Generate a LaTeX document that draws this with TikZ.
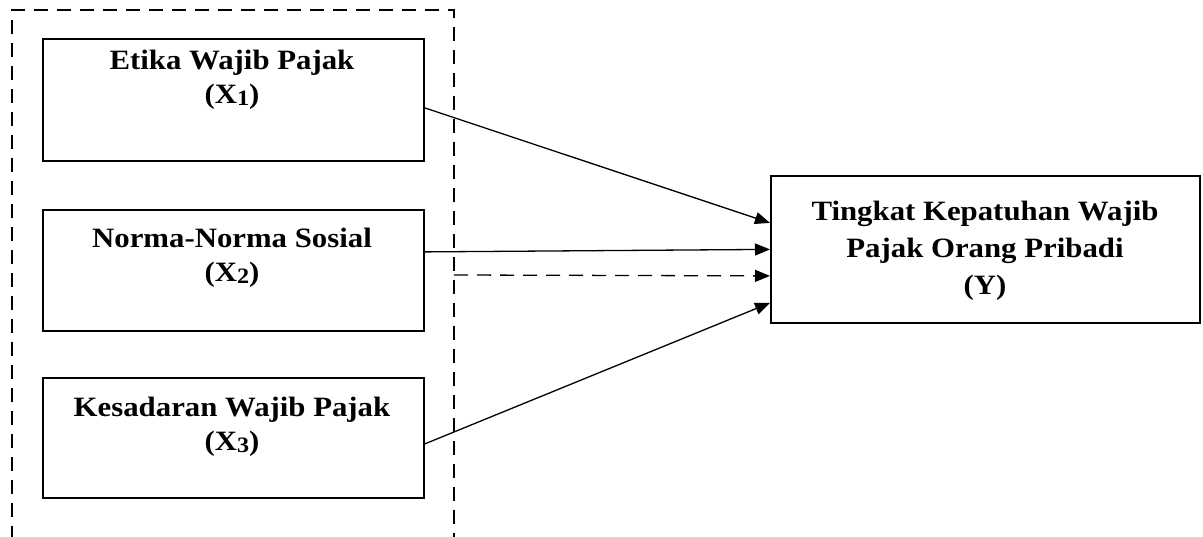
\documentclass[tikz,border=0pt]{standalone}
\usepackage{fontspec}
\setmainfont{Liberation Serif}[FakeStretch=1.1]
\usetikzlibrary{arrows.meta}
\newcommand{\subdig}[1]{\raisebox{-2pt}{\fontsize{22}{22}\selectfont #1}}
\begin{document}
\begin{tikzpicture}[x=1pt,y=-1pt,
  box/.style={draw, line width=1.8pt, inner sep=0pt, anchor=north west},
  lbl/.style={font=\fontsize{28}{34}\selectfont\bfseries, align=center, inner sep=0pt},
  link/.style={line width=1.3pt, -{Triangle[length=15pt,width=12pt]}},
  frame/.style={line width=1.5pt, dash pattern=on 14pt off 9pt}]
\useasboundingbox (0,0) rectangle (1203,537);
% dashed frame
\coordinate (fbl) at (12,540);
\coordinate (ftl) at (12,10);
\coordinate (ftr) at (454,10);
\coordinate (fbr) at (454,540);
\coordinate (fmid) at (454,275);
\draw[frame] (fbl) -- (ftl) -- (ftr) -- (fbr);
% boxes
\node[box, minimum width=381pt, minimum height=122pt] (x1) at (42,38) {};
\node[box, minimum width=381pt, minimum height=121pt] (x2) at (42,209) {};
\node[box, minimum width=381pt, minimum height=120pt] (x3) at (42,377) {};
\node[box, minimum width=429pt, minimum height=147pt] (y) at (770,175) {};
% labels
\node[lbl] (t1) at (232,80) {Etika Wajib Pajak\\(X\subdig{1})};
\node[lbl] (t2) at (232,258) {Norma-Norma Sosial\\(X\subdig{2})};
\node[lbl] (t3) at (232,427) {Kesadaran Wajib Pajak\\(X\subdig{3})};
\node[lbl, font=\fontsize{28}{37}\selectfont\bfseries] (ty) at (985,251) {Tingkat Kepatuhan Wajib\\Pajak Orang Pribadi\\(Y)};
% connectors
\draw[link] ([yshift=-8pt]x1.east) -- ([yshift=26.5pt]y.west);
\draw[link] ([yshift=18.5pt]x2.east) -- ([yshift=0pt]y.west);
\draw[link, dash pattern=on 14pt off 9pt] (fmid) -- ([yshift=-26.5pt]y.west);
\draw[link] ([yshift=-6pt]x3.east) -- ([yshift=-53.5pt]y.west);
\end{tikzpicture}
\end{document}
